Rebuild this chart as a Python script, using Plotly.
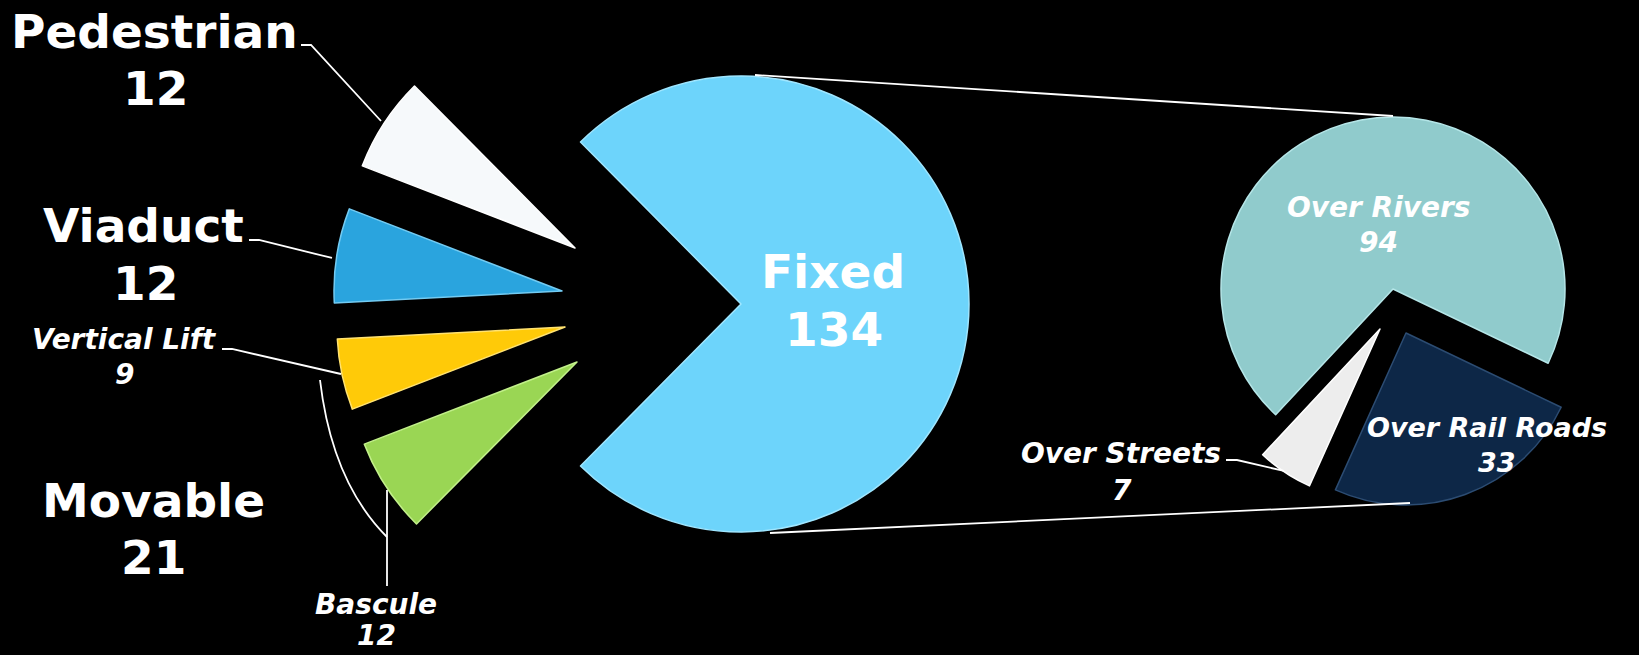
import plotly.graph_objects as go

W, H = 1639, 655

# ---------------- data ----------------
# Left pie: bridge types (clockwise order starting with Fixed)
left_labels = ["Fixed", "Bascule", "Vertical Lift", "Viaduct", "Pedestrian"]
left_values = [134, 12, 9, 12, 12]
left_colors = ["#6DD4FB", "#9AD654", "#FFCA08", "#2AA4DE", "#F6F9FB"]
left_rims = ["#9FE6FF", "#C2F08A", "#FFE270", "#73CBF2", "#FFFFFF"]

# Right pie: breakdown of the Fixed bridges
right_labels = ["Over Rivers", "Over Rail Roads", "Over Streets"]
right_values = [94, 33, 7]
right_colors = ["#90CBCC", "#0D2747", "#EDEDED"]
right_rims = ["#B5E6E8", "#2C4C72", "#FFFFFF"]

# Group label (Movable = Bascule + Vertical Lift)
group_label = "Movable"
group_members = ["Bascule", "Vertical Lift"]

# ---------------- layout geometry (pixels) ----------------
LEFT_R = 228
left_apex = {"Fixed": (741, 304), "Bascule": (577, 362), "Vertical Lift": (565, 327),
             "Viaduct": (562, 291), "Pedestrian": (575, 248)}
RIGHT_R = 172
right_apex = {"Over Rivers": (1393, 289), "Over Rail Roads": (1406, 333),
              "Over Streets": (1380, 329)}


def px(x):
    return x / W


def py(y):
    return 1 - y / H


def slice_trace(labels, values, colors, rims, idx, apex, r, rotation):
    cols = ["rgba(0,0,0,0)"] * len(values)
    lcols = ["rgba(0,0,0,0)"] * len(values)
    cols[idx] = colors[idx]
    lcols[idx] = rims[idx]
    ax, ay = apex
    return go.Pie(
        labels=labels, values=values, sort=False, direction="clockwise",
        rotation=rotation, textinfo="none", hoverinfo="label+value",
        marker=dict(colors=cols, line=dict(color=lcols, width=1.5)),
        domain=dict(x=[px(ax - r), px(ax + r)], y=[py(ay + r), py(ay - r)]),
        showlegend=False,
    )


fig = go.Figure()

lt = sum(left_values)
left_rot = 90 - 360 * left_values[0] / lt / 2
for i, lab in enumerate(left_labels):
    fig.add_trace(slice_trace(left_labels, left_values, left_colors, left_rims, i,
                              left_apex[lab], LEFT_R, left_rot))

rt = sum(right_values)
right_rot = -10.7 - 360 * right_values[0] / rt / 2
for i, lab in enumerate(right_labels):
    fig.add_trace(slice_trace(right_labels, right_values, right_colors, right_rims, i,
                              right_apex[lab], RIGHT_R, right_rot))

# ---------------- labels ----------------
lv = dict(zip(left_labels, left_values))
rv = dict(zip(right_labels, right_values))
group_value = sum(lv[m] for m in group_members)

BIG = 47
SMALL = 28
label_specs = [
    # name, value, (x, y) of name line, (x, y) of value line, size, italic
    ("Pedestrian", lv["Pedestrian"], (154, 32), (155, 89), BIG, False),
    ("Viaduct", lv["Viaduct"], (143, 226), (145, 283), BIG, False),
    ("Vertical Lift", lv["Vertical Lift"], (124, 339), (124, 374), SMALL, True),
    (group_label, group_value, (153, 500), (153, 557), BIG, False),
    ("Bascule", lv["Bascule"], (376, 604), (376, 635), SMALL, True),
    ("Fixed", lv["Fixed"], (833, 271), (834, 329), BIG, False),
    ("Over Rivers", rv["Over Rivers"], (1378, 208), (1378, 242), SMALL, True),
    ("Over Rail Roads", rv["Over Rail Roads"], (1487, 428), (1497, 462), 27, True),
    ("Over Streets", rv["Over Streets"], (1121, 453), (1122, 490), SMALL, True),
]

annotations = []
for name, val, p1, p2, size, ital in label_specs:
    for txt, (x, y) in ((name, p1), (str(val), p2)):
        t = f"<b><i>{txt}</i></b>" if ital else f"<b>{txt}</b>"
        annotations.append(dict(
            x=px(x), y=py(y), xref="paper", yref="paper", text=t, showarrow=False,
            xanchor="center", yanchor="middle",
            font=dict(family="DejaVu Sans", size=size, color="white"),
        ))

# ---------------- leader / connector lines ----------------
line_style = dict(color="white", width=1.8)


def path_from(points):
    return "M " + " L ".join(f"{px(x):.5f},{py(y):.5f}" for x, y in points)


shapes = []
leaders = [
    [(301, 45), (311, 45), (381, 121)],        # Pedestrian
    [(249, 240), (259, 240), (332, 258)],      # Viaduct
    [(222, 349), (232, 349), (341, 374)],      # Vertical Lift
    [(387, 490), (387, 586)],                  # Bascule
    [(1226, 460), (1237, 460), (1284, 471)],   # Over Streets
    [(755, 75), (1393, 116)],                  # connector top
    [(770, 533), (1410, 503)],                 # connector bottom
]
for pts in leaders:
    shapes.append(dict(type="path", xref="paper", yref="paper", path=path_from(pts),
                       line=line_style))

# Movable bracket (curved)
x0, y0 = 320, 380
xc, yc = 332, 482
x1, y1 = 387, 537
shapes.append(dict(type="path", xref="paper", yref="paper",
                   path=f"M {px(x0):.5f},{py(y0):.5f} Q {px(xc):.5f},{py(yc):.5f} {px(x1):.5f},{py(y1):.5f}",
                   line=line_style))

fig.update_layout(
    width=W, height=H, autosize=False,
    margin=dict(l=0, r=0, t=0, b=0),
    paper_bgcolor="black", plot_bgcolor="black",
    annotations=annotations, shapes=shapes,
    showlegend=False,
)

fig.write_html(
    "out.html",
    config={"displayModeBar": False},
    post_script="document.body.style.margin='0';document.body.style.overflow='hidden';"
                "document.body.style.background='black';",
)
